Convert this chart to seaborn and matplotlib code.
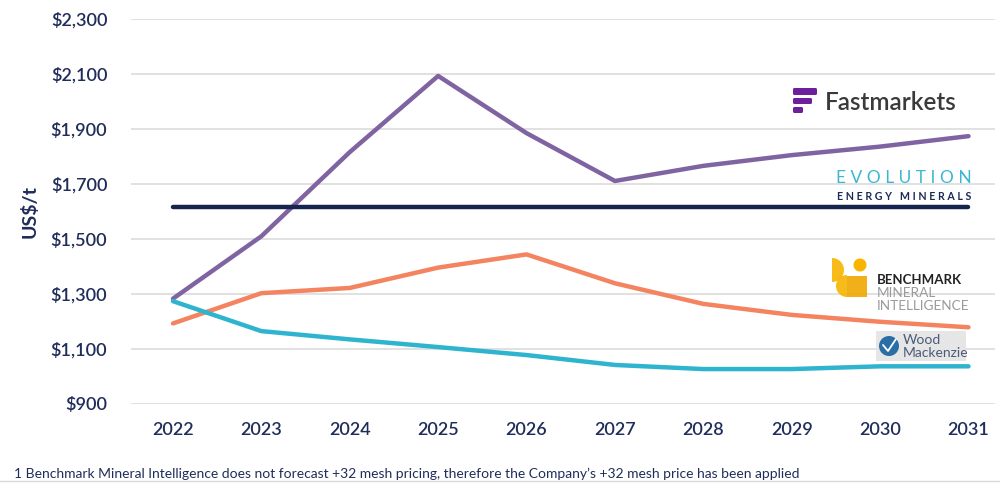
import matplotlib
matplotlib.use("Agg")
import matplotlib.pyplot as plt
import matplotlib.patches as mpatches
import numpy as np
import pandas as pd
import seaborn as sns

years = [2022, 2023, 2024, 2025, 2026, 2027, 2028, 2029, 2030, 2031]
fastmarkets = [1283, 1510, 1816, 2093, 1885, 1711, 1766, 1805, 1836, 1874]
benchmark = [1193, 1303, 1322, 1396, 1444, 1339, 1264, 1224, 1199, 1179]
woodmac = [1274, 1165, 1135, 1107, 1078, 1042, 1027, 1027, 1037, 1037]
evolution = [1615] * 10

series_names = ["Fastmarkets", "Benchmark", "Wood Mackenzie", "Evolution"]
series_colors = ["#8064a2", "#f4845f", "#2fb4cf", "#16254f"]

y_ticks = [900, 1100, 1300, 1500, 1700, 1900, 2100, 2300]
y_tick_labels = ["$900", "$1,100", "$1,300", "$1,500", "$1,700", "$1,900", "$2,100", "$2,300"]
y_label = "US$/t"
footnote = ("1 Benchmark Mineral Intelligence does not forecast +32 mesh pricing, "
            "therefore the Company\u2019s +32 mesh price has been applied")

df = pd.DataFrame({
    "year": years * 4,
    "price": fastmarkets + benchmark + woodmac + evolution,
    "source": sum([[n] * len(years) for n in series_names], []),
})

sns.set_style("white")
plt.rcParams["font.family"] = ["Lato", "DejaVu Sans"]
navy = "#1f2d5a"

fig = plt.figure(figsize=(10, 4.91), dpi=100)
ax = fig.add_axes([0.131, 1 - 404 / 491, 0.864, (404 - 19) / 491])

sns.lineplot(data=df, x="year", y="price", hue="source", hue_order=series_names,
             palette=series_colors, legend=False, ax=ax, linewidth=3.2,
             solid_capstyle="round", clip_on=False)

ax.set_xlim(2022 - 0.475, 2031 + 0.3)
ax.set_ylim(900, 2300)
ax.set_yticks(y_ticks)
ax.set_yticklabels(y_tick_labels)
ax.set_xticks(years)
ax.set_xticklabels([str(y) for y in years])
ax.grid(axis="y", color="#d9d9d9", linewidth=1.1)
ax.grid(axis="x", visible=False)
ax.set_axisbelow(True)
for s in ax.spines.values():
    s.set_visible(False)
ax.tick_params(axis="y", length=0, pad=17, labelsize=13, labelcolor=navy)
ax.tick_params(axis="x", length=0, pad=13, labelsize=13, labelcolor=navy)
for lab in ax.get_xticklabels() + ax.get_yticklabels():
    lab.set_fontweight("semibold")
ax.set_xlabel("")
ax.set_ylabel("")

# overlay in pixel coordinates for the source marks, footnote and rule
ov = fig.add_axes([0, 0, 1, 1], zorder=5)
ov.set_xlim(0, 1000)
ov.set_ylim(491, 0)
ov.axis("off")
ov.patch.set_alpha(0)

ov.text(30, 212, y_label, rotation=90, ha="center", va="center",
        fontsize=14, fontweight="bold", color=navy)
ov.text(14, 474, footnote, ha="left", va="center", fontsize=10, color=navy)
ov.plot([0, 1000], [481, 481], color="#d9d9d9", lw=1)

# Fastmarkets
purple = "#6e1f9c"
for (x0, y0, w, h) in [(793, 88, 24, 7), (793, 98, 19, 6), (793, 107, 10, 6)]:
    ov.add_patch(mpatches.FancyBboxPatch((x0, y0), w, h,
                 boxstyle="round,pad=0,rounding_size=1.5", fc=purple, ec="none"))
ov.text(825, 102, "Fastmarkets", ha="left", va="center", fontsize=17.5,
        fontweight="semibold", color="#3a3a3a")

# Evolution
ov.text(836, 178, "E V O L U T I O N", ha="left", va="center", fontsize=12.5,
        color="#3bb8d0")
ov.text(837, 196, "E N E R G Y   M I N E R A L S", ha="left", va="center",
        fontsize=7.7, fontweight="bold", color="#1b2a55")

# Benchmark
gold = "#f7b500"
ov.add_patch(mpatches.Wedge((832, 270), 12, 270, 90, fc=gold, ec="none", alpha=0.9))
ov.add_patch(mpatches.Wedge((847, 286), 11, 90, 270, fc=gold, ec="none", alpha=0.9))
ov.add_patch(mpatches.Rectangle((847, 276), 20, 21, fc="#f0a800", ec="none", alpha=0.9))
ov.add_patch(mpatches.Circle((860, 265), 6.5, fc=gold, ec="none"))
ov.text(877, 280, "BENCHMARK", ha="left", va="center", fontsize=9.5,
        fontweight="bold", color="#222222")
ov.text(877, 293, "MINERAL", ha="left", va="center", fontsize=9.8, color="#9a9a9a")
ov.text(877, 306, "INTELLIGENCE", ha="left", va="center", fontsize=9.8, color="#9a9a9a")

# Wood Mackenzie
ov.add_patch(mpatches.Rectangle((876, 331), 90, 30, fc="#e6e6e6", ec="none"))
ov.add_patch(mpatches.Circle((889, 346), 10, fc="#2a6ea6", ec="none"))
ov.plot([883, 888, 896], [345, 351, 339], color="white", lw=1.3)
ov.text(903, 340, "Wood", ha="left", va="center", fontsize=10, color="#4a5a78")
ov.text(903, 353, "Mackenzie", ha="left", va="center", fontsize=10, color="#4a5a78")

fig.savefig("out.png", dpi=100)
